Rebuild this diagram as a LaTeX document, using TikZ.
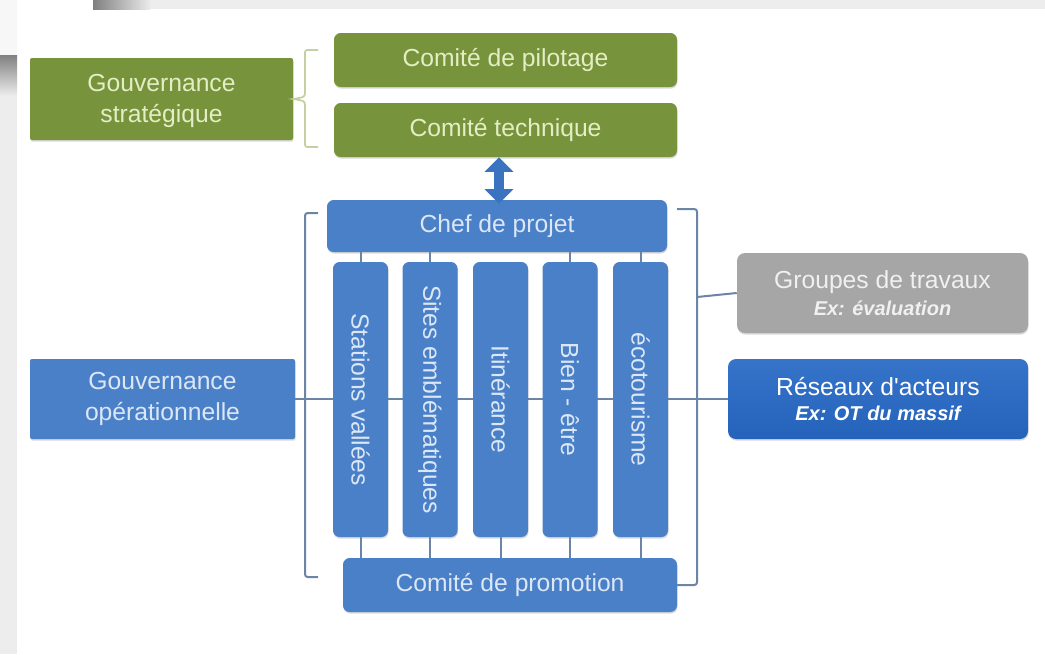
\documentclass[tikz,border=0pt]{standalone}
\usepackage{fontspec}
\setmainfont{Liberation Sans}
\usetikzlibrary{arrows.meta,shadows}
\definecolor{gvgreen}{HTML}{77933C}
\definecolor{gvgreentext}{HTML}{E4EEC4}
\definecolor{gvblue}{HTML}{4A80C8}
\definecolor{gvbluetext}{HTML}{DCE7F6}
\definecolor{gvdeeptop}{HTML}{3574C9}
\definecolor{gvdeepbot}{HTML}{2563BB}
\definecolor{gvgray}{HTML}{A6A6A6}
\definecolor{gvline}{HTML}{6A85A5}
\definecolor{gvbrace}{HTML}{C5D0A2}
\definecolor{gvarrow}{HTML}{3A73C0}
\newcommand\gvexfont{\fontsize{15}{19}\selectfont\bfseries\itshape}
\begin{document}
\begin{tikzpicture}[x=0.75pt,y=-0.75pt,
  base/.style={inner sep=0pt, align=center, font=\fontsize{18.5}{23}\selectfont,
    drop shadow={opacity=0.3, shadow xshift=0.4pt, shadow yshift=-1.2pt}},
  greenbox/.style={base, fill=gvgreen, text=gvgreentext, rounded corners=5pt},
  bluebox/.style={base, fill=gvblue, text=gvbluetext, rounded corners=5pt},
  govgreen/.style={base, fill=gvgreen, text=gvgreentext, rounded corners=1.5pt,
    minimum width=197.25pt, minimum height=61.5pt},
  govblue/.style={base, fill=gvblue, text=gvbluetext, rounded corners=1.5pt,
    minimum width=198.75pt, minimum height=60pt},
  colbox/.style={bluebox, rotate=-90, minimum width=206.25pt, minimum height=41.25pt},
  link/.style={draw=gvline, line width=1.5pt},
  bracket/.style={draw=gvline, line width=1.5pt, rounded corners=2pt},
  gbracket/.style={draw=gvbrace, line width=1.3pt},
  bigarrow/.style={draw=gvarrow, line width=7.5pt,
    {Triangle[width=21pt,length=11pt]}-{Triangle[width=21pt,length=11pt]}}
]
\useasboundingbox (0,0) rectangle (1045,654);
% slide frame remnants
\fill[black!7] (0,0) rectangle (1045,654);
\fill[white] (17,9) rectangle (1045,654);
\fill[white] (0,0) rectangle (93,9);
\fill[black!3] (0,0) rectangle (17,55);
\shade[left color=black!50, right color=black!8] (93,0) rectangle (150,9);
\shade[top color=black!50, bottom color=black!8] (0,55) rectangle (17,95);

% strategic governance
\node[govgreen] (gs) at (161.5,99) {\strut Gouvernance\\stratégique};
\node[greenbox, minimum width=257.25pt, minimum height=40.5pt] (pil) at (505.5,60) {Comité de pilotage};
\node[greenbox, minimum width=257.25pt, minimum height=40.5pt] (tech) at (505.5,130) {Comité technique};

\coordinate (gbt) at (318,50);
\coordinate (gbb) at (318,147);
\draw[gbracket] (gbt) -- (310,50) .. controls (305,50) .. (305,55) -- (305,92)
  .. controls (305,97) .. (gs.east) .. controls (305,101) .. (305,106)
  -- (305,142) .. controls (305,147) .. (310,147) -- (gbb);

% operational governance
\node[govblue] (go) at (162.5,399) {Gouvernance\\opérationnelle};
\node[bluebox, minimum width=255pt, minimum height=39pt] (chef) at (497,226) {Chef de projet};
\node[bluebox, minimum width=250.5pt, minimum height=40.5pt] (promo) at (510,585) {Comité de promotion};

% central horizontal line (behind the columns)
\coordinate (lm) at (305,399);
\coordinate (rm) at (697,399);
\draw[link] (lm) -- (rm);

\node[colbox] (c1) at (360.5,399.5) {Stations vallées};
\node[colbox] (c2) at (430,399.5) {Sites emblématiques};
\node[colbox] (c3) at (500.5,399.5) {Itinérance};
\node[colbox] (c4) at (570,399.5) {Bien - être};
\node[colbox] (c5) at (640.5,399.5) {écotourisme};

\foreach \c in {c1,c2,c4,c5}{
  \draw[link] (chef.south -| \c.center) -- (\c.west);
}
\foreach \c in {c1,c2,c3,c4,c5}{
  \draw[link] (\c.east) -- (promo.north -| \c.center);
}

% double arrow
\coordinate (ax) at (499,0);
\draw[bigarrow] (ax |- tech.south) -- ([yshift=-3pt]ax |- chef.north);

% left bracket
\coordinate (lbt) at (318,213);
\coordinate (lbb) at (318,577);
\draw[bracket] (lbt) -- (305,213) -- (305,577) -- (lbb);
\draw[link] (lm) -- (go.east);

% right side boxes
\node[base, fill=gvgray, text=black!6, rounded corners=6pt,
  minimum width=218.25pt, minimum height=60pt] (grp) at (882.5,293)
  {Groupes de travaux\\[-3pt]{\gvexfont Ex: évaluation}};
\node[base, top color=gvdeeptop, bottom color=gvdeepbot, text=white, rounded corners=6pt,
  minimum width=225pt, minimum height=60pt] (res) at (878,399)
  {Réseaux d\textquotesingle acteurs\\[-4pt]{\gvexfont Ex: OT du massif}};

% right bracket
\coordinate (rbt) at (677,209);
\coordinate (rbb) at (677,585);
\draw[bracket] (rbt) -- (697,209) -- (697,585) -- (rbb);
\draw[link] (rm) -- (res.west);
\draw[link] (697,297) -- (grp.west);
\end{tikzpicture}
\end{document}
